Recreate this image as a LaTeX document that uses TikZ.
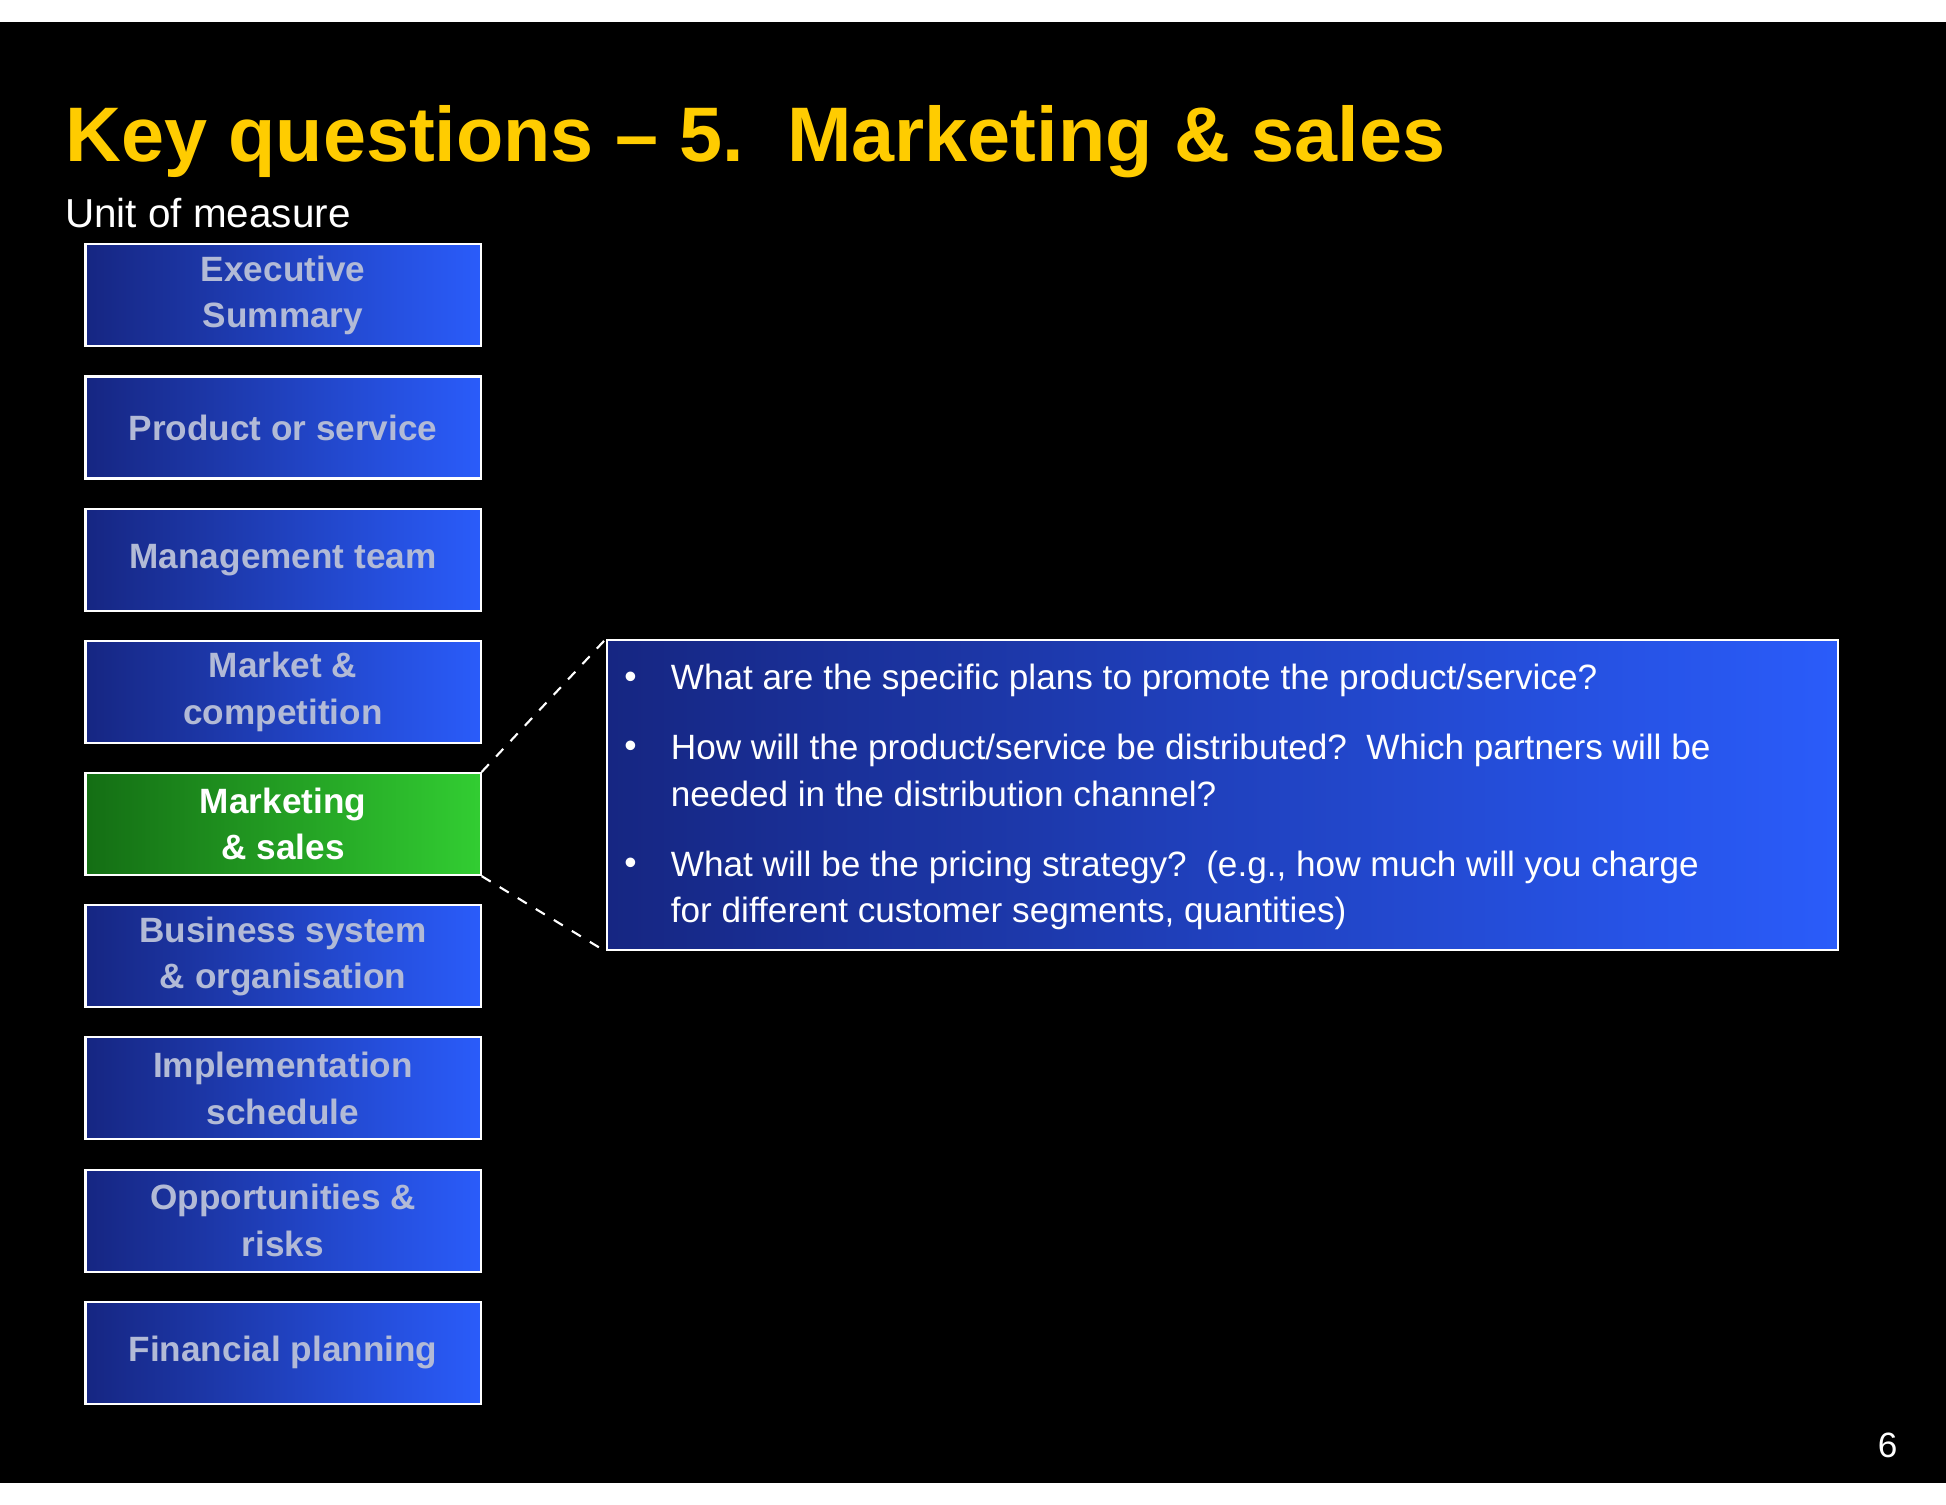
\documentclass[tikz,border=0pt]{standalone}
\usepackage{fontspec}
\setmainfont{Liberation Sans}
\usetikzlibrary{positioning}
\definecolor{keyyellow}{RGB}{255,204,0}
\definecolor{tabtext}{RGB}{178,186,214}
\definecolor{blueleft}{RGB}{22,38,130}
\definecolor{blueright}{RGB}{42,92,250}
\definecolor{greenleft}{RGB}{20,110,20}
\definecolor{greenright}{RGB}{50,205,50}
\tikzset{
  tab/.style={draw=white,line width=0.6pt,left color=blueleft,right color=blueright,
    minimum width=3.95cm,minimum height=1.02cm,anchor=north west,align=center,
    text=tabtext,font=\fontsize{10}{13.2}\selectfont\bfseries,inner sep=0pt},
  tabsel/.style={tab,left color=greenleft,right color=greenright,text=white},
  qtext/.style={anchor=west,align=left,text=white,font=\fontsize{10}{13.2}\selectfont,inner sep=0pt},
  dot/.style={text=white,font=\fontsize{10}{12}\selectfont,inner sep=0pt}
}
\begin{document}
\begin{tikzpicture}[x=0.01241cm,y=-0.01241cm]
\fill[white] (0,0) rectangle (1568,1212);
\fill[black] (0,18) rectangle (1568,1195);
\useasboundingbox (0,0) rectangle (1568,1212);
% title
\node[anchor=base west,text=keyyellow,font=\fontsize{22}{26}\selectfont\bfseries,inner sep=0pt] (title) at (52,130) {Key questions -- 5.\ \ Marketing \& sales};
\node[anchor=west,text=white,font=\fontsize{11.5}{14}\selectfont,inner sep=0pt] (unit) at (52,172) {Unit of measure};
% tabs
\node[tab] (t1) at (68,196) {Executive\\Summary};
\node[tab] (t2) at (68,302.5) {Product or service};
\node[tab] (t3) at (68,409) {Management team};
\node[tab] (t4) at (68,515.5) {Market \&\\competition};
\node[tabsel] (t5) at (68,622) {Marketing\\\& sales};
\node[tab] (t6) at (68,728.5) {Business system\\\& organisation};
\node[tab] (t7) at (68,835) {Implementation\\schedule};
\node[tab] (t8) at (68,941.5) {Opportunities \&\\risks};
\node[tab] (t9) at (68,1048) {Financial planning};
% questions
\node[draw=white,line width=0.6pt,left color=blueleft,right color=blueright,anchor=north west,
  minimum width=12.31cm,minimum height=3.1cm,inner sep=0pt] (box) at (488,515) {};
\draw[white,dashed,line width=0.6pt] (t5.north east) -- (box.north west);
\draw[white,dashed,line width=0.6pt] (t5.south east) -- (box.south west);
\node[dot] (b1) at (508,548) {•};
\node[qtext] (q1) at (540,548) {What are the specific plans to promote the product/service?};
\node[dot] (b2) at (508,604) {•};
\node[qtext,anchor=north west] (q2) at (540,591) {How will the product/service be distributed?\ \ Which partners will be\\needed in the distribution channel?};
\node[dot] (b3) at (508,698) {•};
\node[qtext,anchor=north west] (q3) at (540,685) {What will be the pricing strategy?\ \ (e.g., how much will you charge\\for different customer segments, quantities)};
\node[text=white,font=\fontsize{10}{12}\selectfont,inner sep=0pt] (page) at (1521,1165) {6};
\end{tikzpicture}
\end{document}
